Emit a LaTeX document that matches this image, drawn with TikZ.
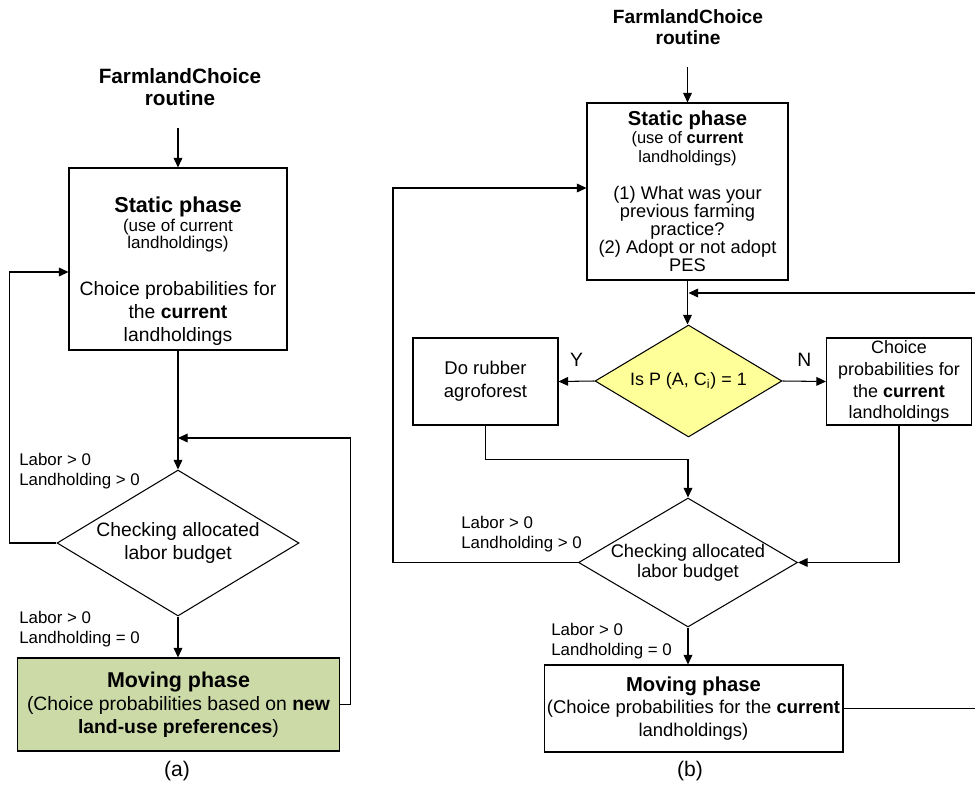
\documentclass[tikz,border=0pt]{standalone}
\usepackage{fontspec}
\setmainfont{Liberation Sans}
\usetikzlibrary{positioning,shapes.geometric,arrows.meta}
\definecolor{movegreen}{RGB}{204,218,168}
\definecolor{testyellow}{RGB}{255,255,153}
\newcommand{\tightlines}{\lineskiplimit=-20pt\relax}
\tikzset{
  bx/.style={rectangle, draw=black, line width=0.6pt, inner sep=0pt, align=center},
  dm/.style={diamond, draw=black, line width=0.6pt, inner sep=0pt, align=center},
  ttl/.style={align=center, inner sep=0pt},
  cond/.style={align=left, inner sep=0pt, anchor=west, font=\fontsize{9.6}{11.4}\selectfont},
  sub/.style={inner sep=0pt, font=\fontsize{12}{14}\selectfont},
  yn/.style={inner sep=0pt, font=\fontsize{11}{13}\selectfont},
  line/.style={line width=0.6pt, ->},
  >={Triangle[length=5.5pt,width=5pt]}
}

\begin{document}
\begin{tikzpicture}[x=0.02cm, y=-0.02cm]
\useasboundingbox (0,0) rectangle (975,785);

% (a)
\node[ttl, font=\bfseries\fontsize{11.8}{12.5}\selectfont] (titleA) at (180,87) {FarmlandChoice\\routine};
\node[bx, minimum width=4.36cm, minimum height=3.64cm,
  label={[align=center, yshift=-7pt, font=\fontsize{11}{13.2}\selectfont]center:{{\bfseries\fontsize{12.3}{14}\selectfont Static phase}\\[-2.4pt]{\fontsize{9.7}{11}\selectfont (use of current}\\[-3.6pt]{\fontsize{9.7}{11}\selectfont landholdings)}\\[13.5pt]Choice probabilities for\\the \textbf{current}\\landholdings}}] (statA) at (178,259) {};
\node[dm, minimum width=4.84cm, minimum height=2.92cm,
  label={[align=center, font=\fontsize{11}{13}\selectfont]center:Checking allocated\\labor budget}] (diaA) at (178,543) {};
\node[bx, fill=movegreen, minimum width=6.46cm, minimum height=1.86cm, font=\fontsize{11}{13.2}\selectfont] (moveA) at (178.5,704.5)
  {{\bfseries\fontsize{12.2}{14}\selectfont Moving phase}\\(Choice probabilities based on \textbf{new}\\\textbf{land-use preferences})};
\node[sub] (capA) at (177,771) {(a)};
\node[cond] (condA1) at (19,471) {Labor > 0\\Landholding > 0};
\node[cond] (condA2) at (19,629) {Labor > 0\\Landholding = 0};

\draw[line] (statA.north |- titleA.south) ++(0,22) -- (statA.north);
\draw[line] (statA) -- (diaA);
\draw[line] (diaA.west) -- ++(-47,0) |- (statA.west |- 0,272);
\draw[line] (moveA.east) -- ++(10,0) |- (diaA.north |- 0,438);
\draw[line] (diaA.south) -- (diaA.south |- moveA.north);

% (b)
\node[ttl, font=\bfseries\fontsize{10.9}{12}\selectfont] (titleB) at (688,27) {FarmlandChoice\\routine};
\node[bx, minimum width=4.02cm, minimum height=3.54cm, font=\fontsize{10.4}{10.2}\selectfont\tightlines] (statB) at (687.5,191.5)
  {{\bfseries\fontsize{11.5}{12}\selectfont Static phase}\\{\fontsize{9.4}{10}\selectfont (use of \textbf{current}}\\[0.6pt]{\fontsize{9.4}{10}\selectfont landholdings)}\\[10.8pt](1) What was your\\previous farming\\practice?\\(2) Adopt or not adopt\\PES};
\node[dm, fill=testyellow, aspect=1.67, minimum width=3.74cm, minimum height=2.24cm, font=\fontsize{10.2}{12}\selectfont] (isP) at (688.5,381) {Is P (A, C\textsubscript{i}) = 1};
\node[bx, minimum width=2.9cm, minimum height=1.74cm, font=\fontsize{10.5}{13.2}\selectfont] (rub) at (485.5,381.5) {Do rubber\\agroforest};
\node[bx, minimum width=2.9cm, minimum height=1.74cm, font=\fontsize{10.2}{12.4}\selectfont] (cho) at (899,381.5) {Choice\\probabilities for\\the \textbf{current}\\landholdings};
\node[dm, minimum width=4.38cm, minimum height=2.58cm,
  label={[align=center, font=\fontsize{10.4}{11.6}\selectfont]center:Checking allocated\\labor budget}] (diaB) at (688,562.5) {};
\node[bx, minimum width=5.98cm, minimum height=1.74cm, font=\fontsize{10.5}{13}\selectfont] (moveB) at (693.5,708.5)
  {{\bfseries\fontsize{11.5}{13}\selectfont Moving phase}\\(Choice probabilities for the \textbf{current}\\landholdings)};
\node[sub] (capB) at (690,771) {(b)};
\node[cond] (condB1) at (461,534) {Labor > 0\\Landholding > 0};
\node[cond] (condB2) at (551,641) {Labor > 0\\Landholding = 0};

\draw[line] (statB.north |- titleB.south) ++(0,22) -- (statB.north);
\draw[line] (statB.south) -- (statB.south |- isP.north);
\draw[line] (moveB.east) -- ++(140,0) |- (isP.north |- 0,293);
\draw[line] (isP.west) -- node[yn, midway, above=8pt] {Y} (rub.east);
\draw[line] (isP.east) -- node[yn, midway, above=8pt] {N} (cho.west);
\draw[line] (rub.south) -- ++(0,34) -| (diaB.north);
\draw[line] (cho.south) |- (diaB.east);
\draw[line] (diaB.west) -- ++(-185,0) |- (statB.west |- 0,188);
\draw[line] (diaB.south) -- (diaB.south |- moveB.north);
\end{tikzpicture}
\end{document}
